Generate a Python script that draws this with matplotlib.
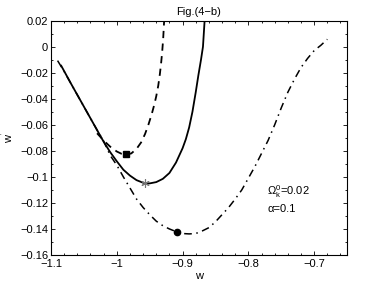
import matplotlib
matplotlib.use("Agg")
import matplotlib.pyplot as plt
from matplotlib.ticker import MultipleLocator

plt.rcParams['font.family'] = ['Liberation Sans', 'DejaVu Sans']
plt.rcParams['mathtext.fontset'] = 'custom'
plt.rcParams['mathtext.rm'] = 'Liberation Sans'
plt.rcParams['mathtext.it'] = 'Liberation Sans'

# dashed curve
dash_w = [-1.030, -1.02, -1.01, -1.0, -0.993, -0.986, -0.978, -0.97, -0.963, -0.957, -0.952,
          -0.947, -0.943, -0.940, -0.937, -0.9345, -0.9325, -0.931, -0.9295, -0.928]
dash_wp = [-0.0665, -0.072, -0.0768, -0.0805, -0.0822, -0.0828, -0.082, -0.0785, -0.0735, -0.067, -0.060,
           -0.052, -0.0445, -0.038, -0.030, -0.021, -0.012, -0.004, 0.006, 0.020]
# solid curve
solid_w = [-1.0845, -1.07, -1.06, -1.05, -1.04, -1.03, -1.02, -1.01, -1.0, -0.99, -0.98, -0.97, -0.96,
           -0.95, -0.94, -0.93, -0.92, -0.91, -0.90, -0.895, -0.89, -0.885, -0.88, -0.876, -0.872,
           -0.869, -0.8665]
solid_wp = [-0.0146, -0.028, -0.037, -0.046, -0.055, -0.064, -0.073, -0.081, -0.088, -0.0945, -0.099,
            -0.1025, -0.1045, -0.105, -0.104, -0.1015, -0.097, -0.089, -0.078, -0.071, -0.062, -0.050,
            -0.035, -0.022, -0.010, 0.0, 0.020]
# dash-dot curve
dd_w = [-1.09, -1.08, -1.07, -1.06, -1.05, -1.04, -1.03, -1.02, -1.01, -1.0, -0.99, -0.98, -0.97,
        -0.96, -0.95, -0.94, -0.93, -0.92, -0.91, -0.90, -0.89, -0.88, -0.87, -0.86, -0.85, -0.84,
        -0.83, -0.82, -0.81, -0.80, -0.79, -0.78, -0.77, -0.76, -0.75, -0.74, -0.73, -0.72, -0.71,
        -0.70, -0.69, -0.68]
dd_wp = [-0.0107, -0.019, -0.028, -0.037, -0.046, -0.055, -0.064, -0.0725, -0.0835, -0.091, -0.100,
         -0.1085, -0.117, -0.1235, -0.129, -0.134, -0.1375, -0.140, -0.142, -0.1435, -0.1438, -0.1435,
         -0.1415, -0.139, -0.1345, -0.129, -0.1235, -0.117, -0.110, -0.101, -0.092, -0.082, -0.072,
         -0.060, -0.047, -0.035, -0.025, -0.016, -0.009, -0.003, 0.001, 0.0057]

# marked points
sq_pt = (-0.986, -0.0828)
star_pt = (-0.957, -0.1045)
circ_pt = (-0.909, -0.142)

fig = plt.figure(figsize=(3.82, 2.87), dpi=100)
ax = fig.add_axes([0.1335, 0.1115, 0.775, 0.8165])

ax.plot(dd_w, dd_wp, color='black', lw=1.1, linestyle=(0, (5, 3, 1, 3)))
ax.plot(solid_w, solid_wp, color='black', lw=1.3, linestyle='-')
ax.plot(dash_w, dash_wp, color='black', lw=1.3, linestyle=(0, (4, 3)))

ax.plot(*sq_pt, marker='s', color='black', ms=4)
ax.plot(*star_pt, marker=(6, 2, 0), color='#777777', ms=6, markeredgewidth=0.8)
ax.plot(*circ_pt, marker='o', color='black', ms=4.5)

ax.set_xlim(-1.1, -0.65)
ax.set_ylim(-0.16, 0.02)
ax.xaxis.set_minor_locator(MultipleLocator(0.02))
ax.yaxis.set_minor_locator(MultipleLocator(0.01))
xt = [-1.1, -1.0, -0.9, -0.8, -0.7]
yt = [0.02, 0, -0.02, -0.04, -0.06, -0.08, -0.1, -0.12, -0.14, -0.16]
ax.set_xticks(xt)
ax.set_xticklabels(['\u22121.1', '\u22121', '\u22120.9', '\u22120.8', '\u22120.7'])
ax.set_yticks(yt)
ax.set_yticklabels(['0.02', '0', '\u22120.02', '\u22120.04', '\u22120.06', '\u22120.08', '\u22120.1',
                    '\u22120.12', '\u22120.14', '\u22120.16'])
ax.tick_params(which='both', direction='in', top=True, right=True, labelsize=8, width=0.6)
ax.tick_params(axis='y', pad=2)
ax.tick_params(axis='x', pad=3)
ax.tick_params(which='major', length=3)
ax.tick_params(which='minor', length=1.5)
for s in ax.spines.values():
    s.set_linewidth(0.8)

ax.set_title('Fig.(4\u2212b)', fontsize=8, pad=4)
ax.set_xlabel('w', fontsize=8, labelpad=1)
ax.set_ylabel("w$^{'}$", fontsize=8, labelpad=4)

ax.text(-0.771, -0.1113, '$\\Omega_k^0$=0.02', fontsize=8, va='center', ha='left')
ax.text(-0.771, -0.1246, '\u03b1=0.1', fontsize=8, va='center', ha='left')

fig.savefig('out.png', dpi=100)
